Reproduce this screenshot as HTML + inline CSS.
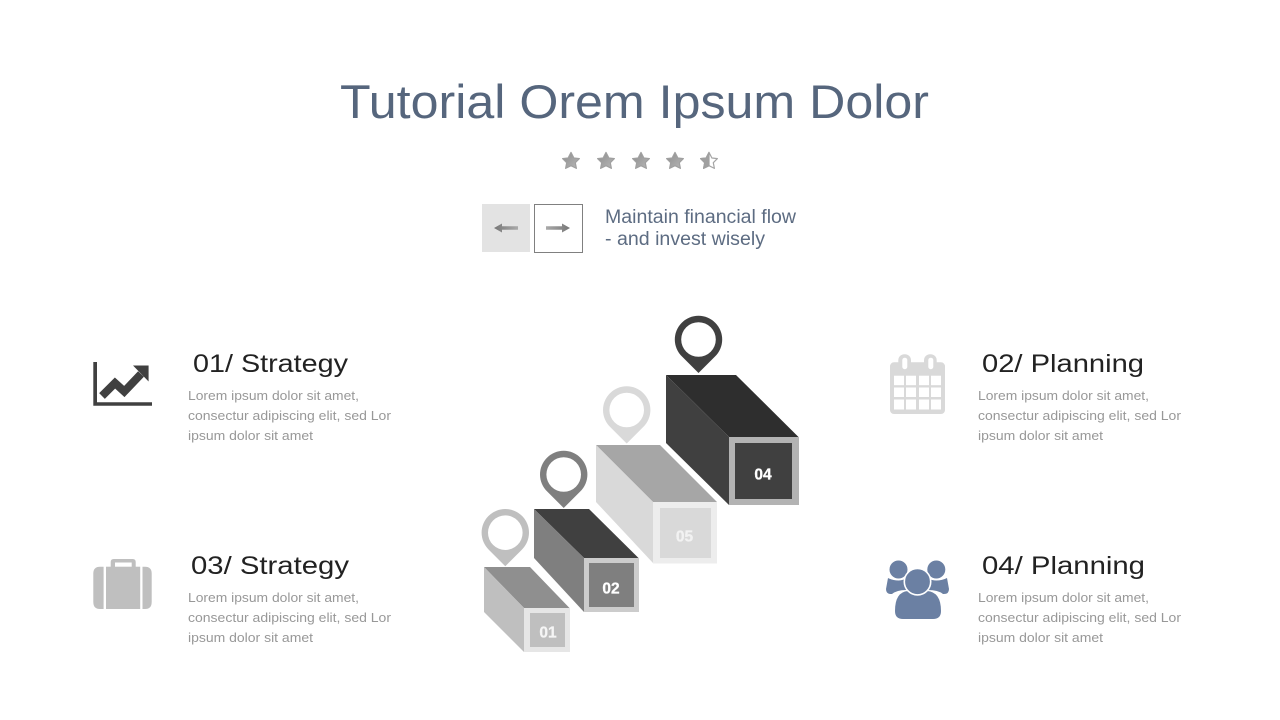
<!DOCTYPE html>
<html><head><meta charset="utf-8"><title>Tutorial Orem Ipsum Dolor</title>
<style>html,body{margin:0;padding:0;background:#fff;width:1280px;height:720px;overflow:hidden}svg{display:block}text{font-family:"Liberation Sans",sans-serif}</style>
</head><body>
<svg width="1280" height="720" viewBox="0 0 1280 720" xmlns="http://www.w3.org/2000/svg">
<defs>
<linearGradient id="g" x1="0" y1="0" x2="1" y2="1"><stop offset="0" stop-color="#8c8c8c"/><stop offset="1" stop-color="#b8b8b8"/></linearGradient>
<linearGradient id="al" x1="0" y1="0" x2="1" y2="0"><stop offset="0" stop-color="#777"/><stop offset="1" stop-color="#aaa"/></linearGradient>
<linearGradient id="ar" x1="0" y1="0" x2="1" y2="0"><stop offset="0" stop-color="#aaa"/><stop offset="1" stop-color="#777"/></linearGradient>
<polygon id="star" points="0,-8.6 2.9,-3 8.4,-2.4 4.3,1.7 5.4,7.4 0,4.7 -5.4,7.4 -4.3,1.7 -8.4,-2.4 -2.9,-3"/>
<path id="pin" d="M0,33.5 L-16.5,17 A23.7,23.7 0 1 1 16.5,17 Z M0,-17.3 A17.3,17.3 0 1 0 0,17.3 A17.3,17.3 0 1 0 0,-17.3 Z" fill-rule="evenodd"/>
</defs>

<text x="340" y="118" font-size="47" fill="#56667d" textLength="589" lengthAdjust="spacingAndGlyphs">Tutorial Orem Ipsum Dolor</text>

<g stroke-linejoin="round">
<use href="#star" x="571" y="161" fill="url(#g)" stroke="#a0a0a0" stroke-width="1.2"/>
<use href="#star" x="606" y="161" fill="url(#g)" stroke="#a0a0a0" stroke-width="1.2"/>
<use href="#star" x="641" y="161" fill="url(#g)" stroke="#a0a0a0" stroke-width="1.2"/>
<use href="#star" x="675" y="161" fill="url(#g)" stroke="#a0a0a0" stroke-width="1.2"/>
<use href="#star" x="709" y="161" fill="none" stroke="#a5a5a5" stroke-width="1.2"/>
<path d="M709,152.4 L709,165.7 L703.6,168.4 L704.7,162.7 L700.6,158.6 L706.1,158 Z" fill="#a0a0a0" stroke="#a0a0a0" stroke-width="1.2"/>
</g>

<rect x="482" y="204" width="48" height="48" fill="#e3e3e3"/>
<rect x="534.5" y="204.5" width="48" height="48" fill="#fff" stroke="#808080" stroke-width="1"/>
<path d="M494,228 L502,223.5 L502,226.2 L518,226.2 L518,229.8 L502,229.8 L502,232.5 Z" fill="url(#al)"/>
<path d="M570,228 L562,223.5 L562,226.2 L546,226.2 L546,229.8 L562,229.8 L562,232.5 Z" fill="url(#ar)"/>
<text x="605" y="223" font-size="19" fill="#5d6c82" textLength="191" lengthAdjust="spacingAndGlyphs">Maintain financial flow</text>
<text x="605" y="245" font-size="19" fill="#5d6c82" textLength="160" lengthAdjust="spacingAndGlyphs">- and invest wisely</text>

<!-- left column -->
<path d="M93.3,362 H97 V402.2 H152 V405.8 H93.3 Z" fill="#404040"/>
<path d="M102,396 L115,383 L124.3,391.5 L141,374" fill="none" stroke="#404040" stroke-width="8"/>
<polygon points="133,365.5 148.6,365.5 148.6,381.5" fill="#404040"/>
<text x="193" y="372" font-size="25" fill="#222" textLength="155" lengthAdjust="spacingAndGlyphs">01/ Strategy</text>
<g font-size="13" fill="#989898">
<text x="188" y="400" textLength="171" lengthAdjust="spacingAndGlyphs">Lorem ipsum dolor sit amet,</text>
<text x="188" y="420" textLength="203" lengthAdjust="spacingAndGlyphs">consectur adipiscing elit, sed Lor</text>
<text x="188" y="440" textLength="125" lengthAdjust="spacingAndGlyphs">ipsum dolor sit amet</text>
</g>

<path d="M110.7,567 V562 Q110.7,559 113.7,559 H132.7 Q135.7,559 135.7,562 V567 H131.7 V562.5 H115 V567 Z" fill="#bfbfbf"/>
<path d="M103.6,566.7 H100 Q93.3,566.7 93.3,573.5 V602 Q93.3,609 100,609 H103.6 Z" fill="#bfbfbf"/>
<rect x="106" y="566.7" width="34.2" height="42.3" fill="#bfbfbf"/>
<path d="M142.5,566.7 H145 Q151.7,566.7 151.7,573.5 V602 Q151.7,609 145,609 H142.5 Z" fill="#bfbfbf"/>
<text x="191" y="574" font-size="25" fill="#222" textLength="158" lengthAdjust="spacingAndGlyphs">03/ Strategy</text>
<g font-size="13" fill="#989898">
<text x="188" y="602" textLength="171" lengthAdjust="spacingAndGlyphs">Lorem ipsum dolor sit amet,</text>
<text x="188" y="622" textLength="203" lengthAdjust="spacingAndGlyphs">consectur adipiscing elit, sed Lor</text>
<text x="188" y="642" textLength="125" lengthAdjust="spacingAndGlyphs">ipsum dolor sit amet</text>
</g>

<!-- right column -->
<rect x="890" y="362.3" width="55" height="51.7" rx="4" fill="#d9d9d9"/>
<rect x="898.3" y="354.3" width="12.7" height="18" rx="6" fill="#d9d9d9"/>
<rect x="924" y="354.3" width="12.7" height="18" rx="6" fill="#d9d9d9"/>
<rect x="902.3" y="357.7" width="5" height="11.5" rx="2.5" fill="#fff"/>
<rect x="928.3" y="357.7" width="5" height="11.5" rx="2.5" fill="#fff"/>
<g fill="#fff">
<rect x="894" y="375.7" width="10" height="9.5"/><rect x="906" y="375.7" width="10" height="9.5"/><rect x="919" y="375.7" width="10" height="9.5"/><rect x="931" y="375.7" width="10" height="9.5"/>
<rect x="894" y="387.5" width="10" height="9.5"/><rect x="906" y="387.5" width="10" height="9.5"/><rect x="919" y="387.5" width="10" height="9.5"/><rect x="931" y="387.5" width="10" height="9.5"/>
<rect x="894" y="399.5" width="10" height="10"/><rect x="906" y="399.5" width="10" height="10"/><rect x="919" y="399.5" width="10" height="10"/><rect x="931" y="399.5" width="10" height="10"/>
</g>
<text x="982" y="372" font-size="25" fill="#222" textLength="162" lengthAdjust="spacingAndGlyphs">02/ Planning</text>
<g font-size="13" fill="#989898">
<text x="978" y="400" textLength="171" lengthAdjust="spacingAndGlyphs">Lorem ipsum dolor sit amet,</text>
<text x="978" y="420" textLength="203" lengthAdjust="spacingAndGlyphs">consectur adipiscing elit, sed Lor</text>
<text x="978" y="440" textLength="125" lengthAdjust="spacingAndGlyphs">ipsum dolor sit amet</text>
</g>

<g fill="#6b80a3">
<circle cx="898.5" cy="569.5" r="9"/>
<circle cx="936.3" cy="569.5" r="9"/>
<path d="M888,578 Q893,580.5 898.5,580.5 Q902,580.5 906,578.5 L906,590 Q897,590 892,594 Q886,594.5 886,589 Z"/>
<path d="M947,578 Q942,580.5 936.3,580.5 Q932,580.5 928,578.5 L928,590 Q938,590 943,594 Q949,594.5 949,589 Z"/>
<path d="M895,611 Q895,592 908,591 Q917,597 927,591 Q941,592 941,611 Q941,619 933,619 H903 Q895,619 895,611 Z"/>
<circle cx="917.5" cy="581.7" r="13.2" stroke="#fff" stroke-width="1.6"/>
</g>
<text x="982" y="574" font-size="25" fill="#222" textLength="163" lengthAdjust="spacingAndGlyphs">04/ Planning</text>
<g font-size="13" fill="#989898">
<text x="978" y="602" textLength="171" lengthAdjust="spacingAndGlyphs">Lorem ipsum dolor sit amet,</text>
<text x="978" y="622" textLength="203" lengthAdjust="spacingAndGlyphs">consectur adipiscing elit, sed Lor</text>
<text x="978" y="642" textLength="125" lengthAdjust="spacingAndGlyphs">ipsum dolor sit amet</text>
</g>

<!-- box 04 -->
<polygon points="666,375 736,375 798.5,437 729,437" fill="#2e2e2e"/>
<polygon points="666,375 729,437 729,505 666,443" fill="#404040"/>
<rect x="729" y="437" width="70" height="68" fill="#b3b3b3"/>
<rect x="735" y="443" width="57" height="56" fill="#404040"/>
<text x="763" y="479.5" font-size="15.5" font-weight="bold" fill="#fff" stroke="#fff" stroke-width=".3" text-anchor="middle">04</text>
<use href="#pin" x="698.5" y="339.5" fill="#404040"/>

<!-- box 05 -->
<polygon points="596,445 660,445 717,502 653,502" fill="#a6a6a6"/>
<polygon points="596,445 653,502 653,563 596,502" fill="#d9d9d9"/>
<rect x="653" y="502" width="64" height="61.5" fill="#ededed"/>
<rect x="660" y="508" width="51" height="50" fill="#d9d9d9"/>
<text x="684.5" y="541.5" font-size="15.5" font-weight="bold" fill="#f2f2f2" stroke="#f2f2f2" stroke-width=".3" text-anchor="middle">05</text>
<use href="#pin" x="626.7" y="410" fill="#d9d9d9"/>

<!-- box 02 -->
<polygon points="534,509 589,509 638.5,558 584,558" fill="#404040"/>
<polygon points="534,509 584,558 584,612 534,558" fill="#7f7f7f"/>
<rect x="584" y="558" width="55" height="54" fill="#cccccc"/>
<rect x="589" y="563" width="45" height="44" fill="#7f7f7f"/>
<text x="611" y="593.5" font-size="15.5" font-weight="bold" fill="#fff" stroke="#fff" stroke-width=".3" text-anchor="middle">02</text>
<use href="#pin" x="563.7" y="474.5" fill="#7f7f7f"/>

<!-- box 01 -->
<polygon points="484,567 530,567 569.5,608 524,608" fill="#8f8f8f"/>
<polygon points="484,567 524,608 524,652 484,612" fill="#bfbfbf"/>
<rect x="524" y="608" width="46" height="44" fill="#e6e6e6"/>
<rect x="530" y="613" width="35" height="34" fill="#bfbfbf"/>
<text x="548" y="637.5" font-size="15.5" font-weight="bold" fill="#f5f5f5" stroke="#f5f5f5" stroke-width=".3" text-anchor="middle">01</text>
<use href="#pin" x="505.3" y="532.7" fill="#bfbfbf"/>
</svg>
</body></html>
